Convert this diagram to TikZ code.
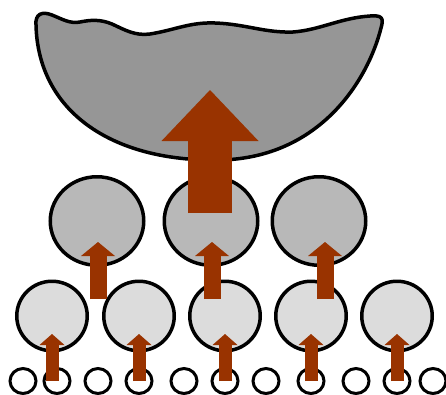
\documentclass[tikz,border=0pt]{standalone}
\usetikzlibrary{shapes.geometric,arrows.meta,calc}

\definecolor{rust}{HTML}{993300}
\definecolor{darkgray}{HTML}{969696}
\definecolor{midgray}{HTML}{B8B8B8}
\definecolor{lightgray}{HTML}{DCDCDC}

\tikzstyle{lowcell} = [ellipse, draw, line width=3pt, fill=white, minimum width=26pt, minimum height=25pt, inner sep=0pt]
\tikzstyle{midcell} = [ellipse, draw, line width=3.5pt, fill=lightgray, minimum width=70.5pt, minimum height=69.5pt, inner sep=0pt]
\tikzstyle{topcell} = [ellipse, draw, line width=3.5pt, fill=midgray, minimum width=93.5pt, minimum height=88.5pt, inner sep=0pt]
\tikzstyle{smallup} = [draw=rust, line width=13pt, -{Triangle[width=25pt,length=11pt,line width=0pt,fill=rust]}]
\tikzstyle{medup} = [draw=rust, line width=17pt, -{Triangle[width=34pt,length=14pt,line width=0pt,fill=rust]}]
\tikzstyle{bigup} = [draw=rust, line width=44pt, -{Triangle[width=97pt,length=51pt,line width=0pt,fill=rust]}]

\begin{document}
\begin{tikzpicture}[x=1pt, y=-1pt]
    \useasboundingbox (0,0) rectangle (446,394);

    % the whole
    \draw[line width=3.5pt, fill=darkgray, line join=round]
      (36,25) .. controls (35,14) and (42,11) .. (52,15)
      .. controls (62,19) and (70,24) .. (80,22)
      .. controls (90,20) and (100,19) .. (112,24)
      .. controls (125,30) and (135,36) .. (150,34)
      .. controls (175,30) and (190,22) .. (215,23)
      .. controls (245,24) and (265,33) .. (293,32)
      .. controls (320,30) and (340,18) .. (370,16)
      .. controls (382,15) and (384,18) .. (381,28)
      .. controls (368,80) and (320,158) .. (220,160)
      .. controls (110,162) and (38,110) .. (36,25) -- cycle;
    \coordinate (whole) at (210,90);

    % upper parts
    \node[topcell] (t1) at (97,221) {};
    \node[topcell] (t2) at (211,221) {};
    \node[topcell] (t3) at (319,221) {};

    % middle parts
    \node[midcell] (m1) at (52,316) {};
    \node[midcell] (m2) at (139,316) {};
    \node[midcell] (m3) at (225,316) {};
    \node[midcell] (m4) at (311,316) {};
    \node[midcell] (m5) at (397,316) {};

    % lowest parts
    \node[lowcell] (b1) at (23,381) {};
    \node[lowcell] (b2) at (57,381) {};
    \node[lowcell] (b3) at (98,381) {};
    \node[lowcell] (b4) at (139,381) {};
    \node[lowcell] (b5) at (184,381) {};
    \node[lowcell] (b6) at (225,381) {};
    \node[lowcell] (b7) at (266,381) {};
    \node[lowcell] (b8) at (311,381) {};
    \node[lowcell] (b9) at (356,381) {};
    \node[lowcell] (b10) at (397,381) {};
    \node[lowcell] (b11) at (433,381) {};

    % lowest to middle
    \draw[smallup] (m1 |- b2) -- ($(m1)+(0,18)$);
    \draw[smallup] (b4.center) -- ($(m2)+(0,18)$);
    \draw[smallup] (b6.center) -- ($(m3)+(0,18)$);
    \draw[smallup] (b8.center) -- ($(m4)+(0,18)$);
    \draw[smallup] (b10.center) -- ($(m5)+(0,18)$);

    % middle to upper
    \draw[medup] ($(t1 |- m1)+(1,-17)$) -- ($(t1)+(1,21)$);
    \draw[medup] ($(t2 |- m3)+(1,-17)$) -- ($(t2)+(1,21)$);
    \draw[medup] ($(t3 |- m4)+(6,-17)$) -- ($(t3)+(6,21)$);

    % upper to the whole
    \draw[bigup] ($(t2)+(-1,-8)$) -- (whole);
\end{tikzpicture}
\end{document}
